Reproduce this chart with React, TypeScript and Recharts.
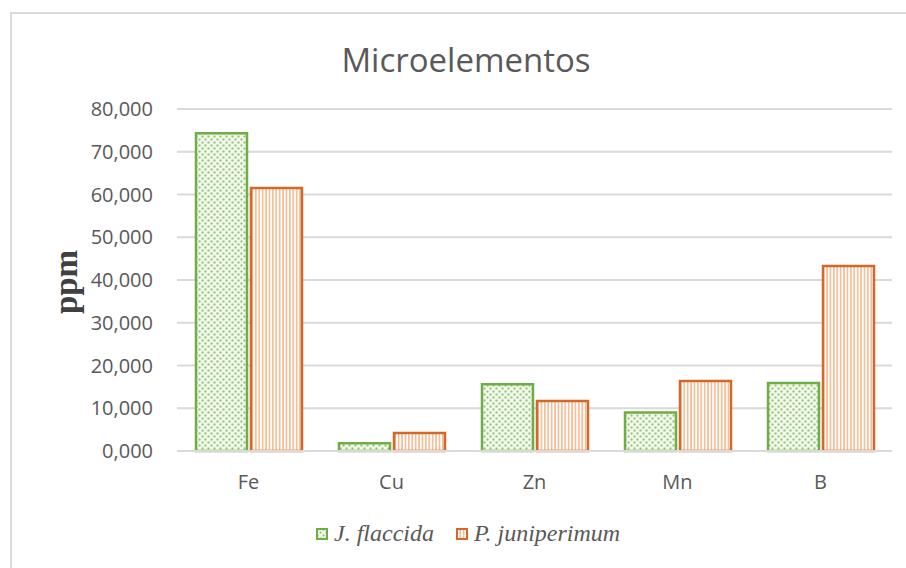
import { BarChart, Bar, XAxis, YAxis, CartesianGrid, Legend } from "recharts";

const elements = ["Fe", "Cu", "Zn", "Mn", "B"];
const flaccida = [74.3, 1.8, 15.6, 9.0, 15.9];
const juniperimum = [61.5, 4.2, 11.7, 16.4, 43.3];
const yTicks = [0, 10, 20, 30, 40, 50, 60, 70, 80];

const seriesNames = { a: "J. flaccida", b: "P. juniperimum" };

const data = elements.map((name, i) => ({ name, a: flaccida[i], b: juniperimum[i] }));

const textColor = "#595959";
const gridColor = "#d9d9d9";
const green = "#70ad47";
const orange = "#d2692a";

const fmt = (v: number) => v.toFixed(3).replace(".", ",");

function PatternDefs() {
  return (
    <defs>
      <pattern id="dots" width="6" height="6" patternUnits="userSpaceOnUse">
        <rect width="6" height="6" fill="#f3f9ee" />
        <rect x="0.5" y="0.5" width="2" height="2" fill="#8ec26b" />
        <rect x="3.5" y="3.5" width="2" height="2" fill="#8ec26b" />
      </pattern>
      <pattern id="stripes" width="3.4" height="6" patternUnits="userSpaceOnUse">
        <rect width="3.4" height="6" fill="#fff" />
        <rect x="0" y="0" width="1.7" height="6" fill="#f6bf98" />
      </pattern>
    </defs>
  );
}

function LegendContent() {
  const items = [
    { label: seriesNames.a, fill: "url(#dots)", stroke: green },
    { label: seriesNames.b, fill: "url(#stripes)", stroke: orange },
  ];
  return (
    <div style={{ display: "flex", alignItems: "center", gap: 22 }}>
      {items.map((it) => (
        <div key={it.label} style={{ display: "flex", alignItems: "center", gap: 6 }}>
          <svg width={12} height={12}>
            <rect x={1} y={1} width={10} height={10} fill={it.fill} stroke={it.stroke} strokeWidth={2} />
          </svg>
          <span
            style={{
              fontFamily: "'Liberation Serif', serif",
              fontStyle: "italic",
              fontSize: 24,
              color: textColor,
            }}
          >
            {it.label}
          </span>
        </div>
      ))}
    </div>
  );
}

export default function App() {
  return (
    <div style={{ position: "fixed", left: 0, top: 0, width: 906, height: 568, background: "#fff", overflow: "hidden" }}>
      <div
        style={{
          position: "absolute",
          left: 10,
          top: 12,
          width: 920,
          height: 600,
          border: `2px solid ${gridColor}`,
          boxSizing: "border-box",
        }}
      />
      <div
        style={{
          position: "absolute",
          left: 0,
          width: 932,
          top: 37,
          textAlign: "center",
          fontFamily: "'Open Sans', sans-serif",
          fontSize: 33,
          color: textColor,
          lineHeight: "46px",
        }}
      >
        Microelementos
      </div>
      <div
        style={{
          position: "absolute",
          left: 66,
          top: 282,
          transform: "translate(-50%, -50%) rotate(-90deg)",
          fontFamily: "'Liberation Serif', serif",
          fontWeight: "bold",
          fontSize: 33,
          color: "#404040",
          whiteSpace: "nowrap",
        }}
      >
        ppm
      </div>
      <div style={{ position: "absolute", left: 0, top: 0 }}>
        <BarChart
          width={906}
          height={568}
          data={data}
          margin={{ top: 109, right: 14, bottom: 60, left: 97 }}
          barGap={4}
          barSize={51}
        >
          <PatternDefs />
          <CartesianGrid vertical={false} stroke={gridColor} strokeWidth={2} />
          <XAxis
            dataKey="name"
            axisLine={{ stroke: gridColor, strokeWidth: 2 }}
            tickLine={false}
            tickSize={0}
            tickMargin={24}
            tick={{ fontSize: 20, fill: textColor, fontFamily: "'Open Sans', sans-serif" }}
          />
          <YAxis
            domain={[0, 80]}
            ticks={yTicks}
            tickFormatter={fmt}
            axisLine={false}
            tickLine={false}
            tickSize={0}
            tickMargin={24}
            width={80}
            tick={{ fontSize: 20, fill: textColor, fontFamily: "'Open Sans', sans-serif" }}
          />
          <Legend
            content={<LegendContent />}
            wrapperStyle={{ position: "absolute", left: 316, top: 520, width: "auto" }}
          />
          <Bar
            dataKey="a"
            name={seriesNames.a}
            fill="url(#dots)"
            stroke={green}
            strokeWidth={2.5}
            isAnimationActive={false}
          />
          <Bar
            dataKey="b"
            name={seriesNames.b}
            fill="url(#stripes)"
            stroke={orange}
            strokeWidth={2.5}
            isAnimationActive={false}
          />
        </BarChart>
      </div>
    </div>
  );
}
